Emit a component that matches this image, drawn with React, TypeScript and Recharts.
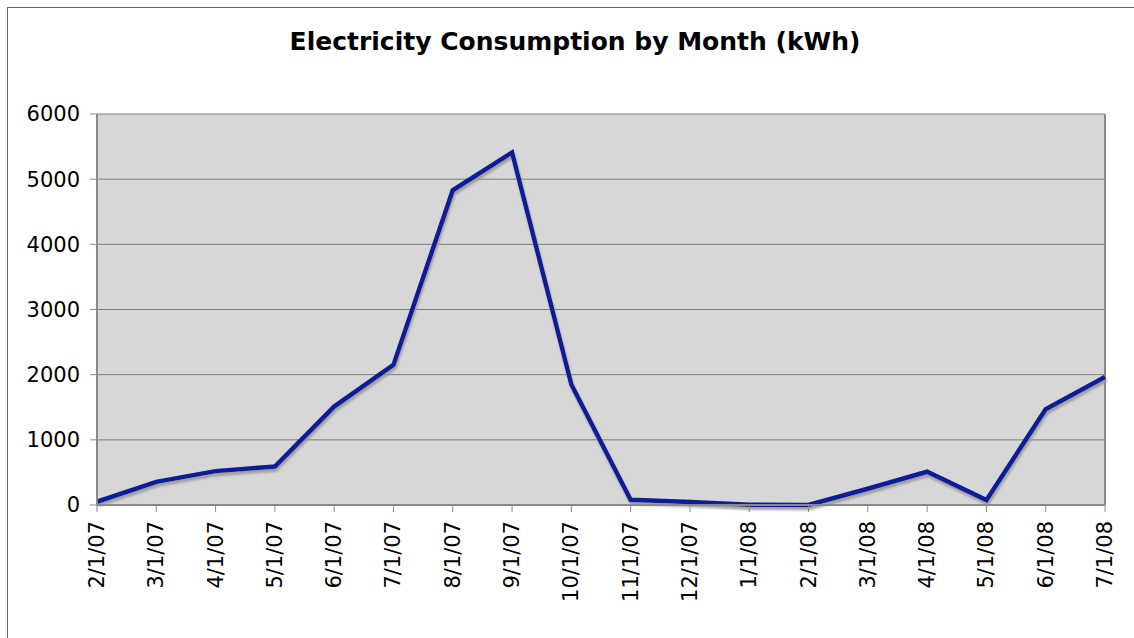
import { LineChart, Line, XAxis, YAxis, CartesianGrid, ReferenceLine } from 'recharts';

const months = [
  '2/1/07', '3/1/07', '4/1/07', '5/1/07', '6/1/07', '7/1/07', '8/1/07', '9/1/07', '10/1/07',
  '11/1/07', '12/1/07', '1/1/08', '2/1/08', '3/1/08', '4/1/08', '5/1/08', '6/1/08', '7/1/08',
];
const kwh = [50, 355, 520, 590, 1510, 2150, 4830, 5410, 1850, 80, 45, 5, 0, 250, 510, 75, 1470, 1965];
const yTicks = [0, 1000, 2000, 3000, 4000, 5000, 6000];

const data = months.map((month, i) => ({ month, kwh: kwh[i] }));

const FONT = '"DejaVu Sans", Verdana, sans-serif';

// rotated date labels, reading bottom-to-top
const MonthTick = ({ x, y, payload }: any) => (
  <text
    x={0}
    y={0}
    transform={`translate(${x},${y + 7}) rotate(-90)`}
    textAnchor="end"
    dominantBaseline="central"
    fontSize={21}
    fontFamily={FONT}
    fill="#000"
  >
    {payload.value}
  </text>
);

const App = () => {
  return (
    <div style={{ position: 'absolute', left: 0, top: 0, width: 1134, height: 638, background: '#fff' }}>
      <div
        style={{
          position: 'absolute',
          left: 7,
          top: 7,
          right: 0,
          bottom: 0,
          borderTop: '1px solid #666',
          borderLeft: '1px solid #666',
        }}
      />
      <div
        style={{
          position: 'absolute',
          top: 27,
          left: 8,
          width: 1134,
          textAlign: 'center',
          fontFamily: FONT,
          fontWeight: 'bold',
          fontSize: 25,
          color: '#000',
        }}
      >
        Electricity Consumption by Month (kWh)
      </div>
      <div style={{ position: 'absolute', left: 0, top: 0 }}>
        <LineChart width={1134} height={638} data={data} margin={{ top: 114, right: 29, left: 0, bottom: 0 }}>
          <defs>
            <filter id="lineShadow" x="-5%" y="-5%" width="110%" height="120%">
              <feDropShadow dx="1" dy="3" stdDeviation="1" floodColor="#999" floodOpacity="0.9" />
            </filter>
          </defs>
          <CartesianGrid vertical={false} fill="#d7d7d7" fillOpacity={1} stroke="#7d7d7d" />
          <XAxis
            dataKey="month"
            interval={0}
            height={133}
            tickSize={7}
            tick={<MonthTick />}
            tickLine={{ stroke: '#8a8a8a' }}
            axisLine={{ stroke: '#8a8a8a', strokeWidth: 2 }}
          />
          <YAxis
            width={97}
            domain={[0, 6000]}
            ticks={yTicks}
            interval={0}
            tickSize={7}
            tickMargin={10}
            tick={{ fontSize: 21, fill: '#000', fontFamily: FONT }}
            tickLine={{ stroke: '#8a8a8a' }}
            axisLine={{ stroke: '#8a8a8a', strokeWidth: 2 }}
          />
          <ReferenceLine x="7/1/08" stroke="#8a8a8a" strokeWidth={2} />
          <Line
            type="linear"
            dataKey="kwh"
            stroke="#0a1a99"
            strokeWidth={4.5}
            dot={false}
            activeDot={false}
            filter="url(#lineShadow)"
            isAnimationActive={false}
          />
        </LineChart>
      </div>
    </div>
  );
};

export default App;
